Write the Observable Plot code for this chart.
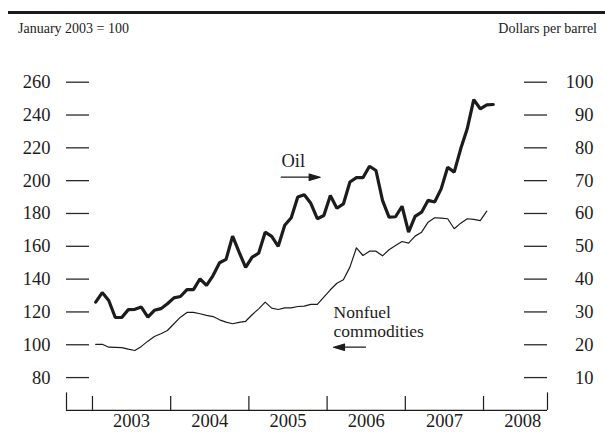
<!DOCTYPE html>
<html><head><meta charset="utf-8">
<script src="https://cdn.jsdelivr.net/npm/d3@7"></script>
<script src="https://cdn.jsdelivr.net/npm/@observablehq/plot@0.6"></script>
<style>
html,body{margin:0;padding:0;background:#fff;}
#wrap{position:relative;width:605px;height:434px;font-family:"Liberation Serif","Times New Roman",serif;color:#222;}
#rule{position:absolute;left:8px;right:0;top:11px;height:3px;background:#1a1a1a;}
.hdr{position:absolute;top:20px;font-size:14px;line-height:18px;white-space:nowrap;}
#chart{position:absolute;left:0;top:0;}
</style></head>
<body>
<div id="wrap"><div id="chart"></div><div id="rule"></div>
<div class="hdr" style="left:18px">January 2003 = 100</div>
<div class="hdr" style="right:8px">Dollars per barrel</div></div>
<script>
// Monthly series starting January 2003
const startYear = 2003;
// Oil price, dollars per barrel (right axis)
const oilDollars = [
  33.0, 35.9, 33.5, 28.3, 28.3, 30.7, 30.8, 31.5, 28.4, 30.5, 31.0, 32.5,
  34.3, 34.7, 36.8, 36.8, 40.1, 38.1, 41.1, 45.0, 46.0, 53.1, 48.2, 43.6,
  46.7, 47.9, 54.3, 53.0, 50.0, 56.4, 58.7, 65.0, 65.7, 63.1, 58.4, 59.4,
  65.5, 61.6, 62.9, 69.6, 70.9, 70.9, 74.4, 73.1, 64.0, 58.9, 59.0, 62.2,
  54.3, 59.1, 60.4, 64.0, 63.5, 67.5, 74.1, 72.6, 79.7, 85.8, 94.7, 91.9,
  93.1, 93.2
];
// Nonfuel commodities index, January 2003 = 100 (left axis)
const nonfuelIndex = [
  100.2, 100.3, 98.5, 98.4, 98.3, 97.3, 96.5, 99.0, 102.2, 105.0, 106.7, 108.7,
  112.8, 116.8, 119.7, 119.7, 118.9, 117.9, 117.2, 115.2, 113.8, 112.8, 113.6, 114.3,
  118.3, 121.9, 126.0, 122.3, 121.5, 122.5, 122.5, 123.3, 123.5, 124.6, 124.6, 129.0,
  133.5, 137.5, 139.6, 147.3, 159.1, 154.4, 157.0, 157.0, 154.2, 157.9, 160.5, 162.9,
  161.9, 166.2, 168.6, 174.7, 177.4, 177.2, 176.8, 170.7, 174.1, 176.8, 176.4, 175.7,
  181.4
];
const leftTicks = [80, 100, 120, 140, 160, 180, 200, 220, 240, 260];
const rightTicks = [10, 20, 30, 40, 50, 60, 70, 80, 90, 100];
const years = [2003, 2004, 2005, 2006, 2007, 2008];
const seriesLabels = ["Oil", "Nonfuel", "commodities"];

// dollars -> index scale (20 $ = 100, 100 $ = 260)
const toLeft = d => 2 * d + 60;
const monthX = i => startYear + (i + 0.5) / 12;

const oil = oilDollars.map((v, i) => ({x: monthX(i), v}));
const nonfuel = nonfuelIndex.map((v, i) => ({x: monthX(i), v}));

const W = 605, H = 434, mL = 66, mR = 58, mT = 81.7, mB = 24.1;
const fw = W - mL - mR, fh = H - mT - mB;
const xDomain = [2002.668, 2008.818];
const ink = "#1c1c1c";
const fs = 18.5;

const arrowShape = {
  draw(context, l) {
    context.moveTo(0, 0);
    context.lineTo(0, -l + 8);
    context.moveTo(0, -l);
    context.lineTo(-3.2, -l + 11);
    context.lineTo(3.2, -l + 11);
    context.closePath();
  }
};

const chart = Plot.plot({
  width: W, height: H,
  marginLeft: mL, marginRight: mR, marginTop: mT, marginBottom: mB,
  style: {fontFamily: '"Liberation Serif","Times New Roman",serif', background: "transparent", color: ink},
  x: {domain: xDomain, axis: null},
  y: {domain: [60, 260], axis: null},
  marks: [
    // bottom axis
    Plot.ruleY([60], {stroke: ink, strokeWidth: 1.2}),
    Plot.ruleX(years, {x: d => d, insetTop: fh - 14, stroke: ink, strokeWidth: 1.2}),
    Plot.ruleX(xDomain, {x: d => d, insetTop: fh - 17.5, stroke: ink, strokeWidth: 1.2}),
    Plot.text(years, {x: d => d + 0.5, text: d => String(d), frameAnchor: "bottom", dy: 17, fontSize: fs, fill: ink}),
    // tick dashes
    Plot.ruleY(leftTicks, {y: d => d, insetRight: fw - 23, stroke: "#2a2a2a", strokeWidth: 1.3}),
    Plot.ruleY(rightTicks, {y: d => toLeft(d), insetLeft: fw - 23, stroke: "#2a2a2a", strokeWidth: 1.3}),
    Plot.text(leftTicks, {y: d => d, text: d => String(d), frameAnchor: "left", textAnchor: "end", dx: -16, fontSize: fs, fill: ink}),
    Plot.text(rightTicks, {y: d => toLeft(d), text: d => String(d), frameAnchor: "right", textAnchor: "end", dx: 46, fontSize: fs, fill: ink}),
    // series
    Plot.line(nonfuel, {x: "x", y: "v", stroke: ink, strokeWidth: 1.2}),
    Plot.line(oil, {x: "x", y: d => toLeft(d.v), stroke: ink, strokeWidth: 3.2, strokeLinejoin: "miter"}),
    // annotations
    Plot.text([seriesLabels[0]], {x: 2005.417, y: 212.2, text: d => d, textAnchor: "start", fontSize: fs, fill: ink}),
    Plot.vector([0], {x: 2005.413, y: 202.1, length: 39, rotate: 90, anchor: "start", shape: arrowShape, stroke: ink, fill: ink, strokeWidth: 1.2}),
    Plot.text([seriesLabels[1]], {x: 2006.082, y: 119.6, text: d => d, textAnchor: "start", fontSize: 17.5, fill: ink}),
    Plot.text([seriesLabels[2]], {x: 2006.082, y: 108.3, text: d => d, textAnchor: "start", fontSize: 17.5, fill: ink}),
    Plot.vector([0], {x: 2006.491, y: 98.5, length: 32, rotate: -90, anchor: "start", shape: arrowShape, stroke: ink, fill: ink, strokeWidth: 1.2})
  ]
});
document.getElementById("chart").appendChild(chart);
</script>
</body></html>
